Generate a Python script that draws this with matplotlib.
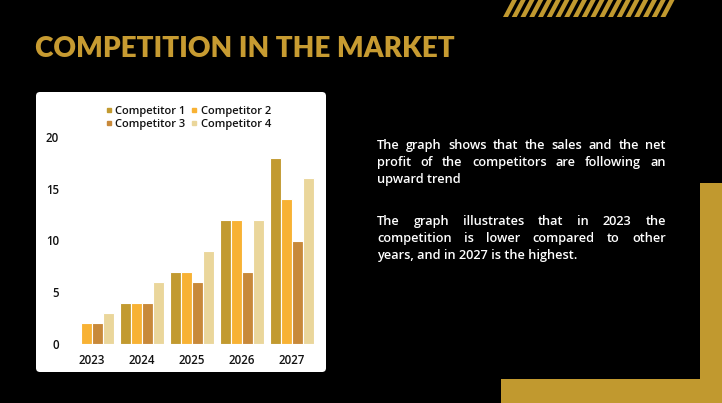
import matplotlib
matplotlib.use("Agg")
import matplotlib.pyplot as plt
import numpy as np
from matplotlib.patches import FancyBboxPatch, Rectangle, Polygon
from matplotlib.lines import Line2D

# ---------------- data ----------------
years = ["2023", "2024", "2025", "2026", "2027"]
competitor_1 = [0, 4, 7, 12, 18]
competitor_2 = [2, 4, 7, 12, 14]
competitor_3 = [2, 4, 6, 7, 10]
competitor_4 = [3, 6, 9, 12, 16]
series_names = ["Competitor 1", "Competitor 2", "Competitor 3", "Competitor 4"]
y_ticks = [0, 5, 10, 15, 20]

title_text = "COMPETITION IN THE MARKET"
para1 = ["The graph shows that the sales and the net",
         "profit of the competitors are following an",
         "upward trend"]
para2 = ["The graph illustrates that in 2023 the",
         "competition is lower compared to other",
         "years, and in 2027 is the highest."]

# ---------------- style ----------------
colors = ["#C29A30", "#F8B234", "#C8893A", "#EAD69B"]
gold = "#C1992F"
W, H = 722, 403

fig = plt.figure(figsize=(W / 100, H / 100), dpi=100, facecolor="black")
renderer = fig.canvas.get_renderer()

# background / decoration axes in pixel coordinates
bg = fig.add_axes([0, 0, 1, 1], zorder=0)
bg.set_xlim(0, W)
bg.set_ylim(H, 0)
bg.axis("off")
bg.set_facecolor("black")

# white card
card = FancyBboxPatch((36, 92), 290, 280, boxstyle="round,pad=0,rounding_size=4",
                      facecolor="white", edgecolor="none")
bg.add_patch(card)

# stripes top-right
period, sw, shift, h = 8.75, 5.0, 9.0, 17.0
x_start, x_end = 503.0, 669.0
x = x_start
while x < x_end - 1:
    x2 = min(x + sw, x_end)
    bg.add_patch(Polygon([(x, h), (x2, h), (x2 + shift, 0), (x + shift, 0)],
                         closed=True, facecolor=gold, edgecolor="none"))
    x += period

# L-shaped frame bottom-right
bg.add_patch(Rectangle((700, 183), 22, 220, facecolor=gold, edgecolor="none"))
bg.add_patch(Rectangle((501, 379), 221, 24, facecolor=gold, edgecolor="none"))

# title, sized to span the same width as the reference
title = bg.text(35, 57, title_text, fontsize=24, family=["Lato", "DejaVu Sans"],
                fontweight="heavy", color="#C79B31", va="baseline", ha="left")
tw = title.get_window_extent(renderer=renderer).width
title.set_fontsize(24 * 420.0 / tw)

# justified paragraphs
tfont = dict(family=["Open Sans", "DejaVu Sans"], fontweight="semibold", fontsize=9.2, color="white")


def word_width(w):
    t = bg.text(0, 0, w, **tfont)
    bb = t.get_window_extent(renderer=renderer)
    t.remove()
    return bb.width


def justify(lines, x0, x1, y0, dy):
    for i, line in enumerate(lines):
        y = y0 + i * dy
        if i == len(lines) - 1:
            bg.text(x0, y, line, va="baseline", ha="left", **tfont)
            continue
        words = line.split()
        widths = [word_width(w) for w in words]
        gap = (x1 - x0 - sum(widths)) / (len(words) - 1)
        xx = x0
        for w, wd in zip(words, widths):
            bg.text(xx, y, w, va="baseline", ha="left", **tfont)
            xx += wd + gap


justify(para1, 377, 666, 149, 17)
justify(para2, 377, 666, 225, 17)

# ---------------- chart ----------------
left_px, right_px, bottom_px, top_px = 66, 318, 344, 137
ax = fig.add_axes([left_px / W, 1 - bottom_px / H, (right_px - left_px) / W,
                   (bottom_px - top_px) / H], zorder=1)
ax.patch.set_alpha(0)
xs = np.arange(len(years))
bw = 0.22
all_series = [competitor_1, competitor_2, competitor_3, competitor_4]
for i, (vals, c) in enumerate(zip(all_series, colors)):
    ax.bar(xs + (i - 1.5) * bw, vals, width=bw, color=c, edgecolor="white", linewidth=0.8)

ax.set_xlim((left_px - 91.5) / 50, (right_px - 91.5) / 50)
ax.set_ylim(0, 20)
ax.set_yticks(y_ticks)
ax.set_yticklabels([str(v) for v in y_ticks])
ax.set_xticks(xs)
ax.set_xticklabels(years)
for s in ax.spines.values():
    s.set_visible(False)
ax.tick_params(length=0, labelsize=8.3, labelcolor="#111111")
ax.tick_params(axis="y", pad=5)
ax.tick_params(axis="x", pad=7)
for lab in ax.get_xticklabels() + ax.get_yticklabels():
    lab.set_family(["Open Sans", "DejaVu Sans"])
    lab.set_fontweight("semibold")

# legend (row-major order: C1 C2 / C3 C4)
handles = [Line2D([], [], marker="s", ls="", ms=2.2, color=c) for c in colors]
order = [0, 2, 1, 3]
leg = fig.legend([handles[k] for k in order], [series_names[k] for k in order],
                 ncol=2, loc="center", bbox_to_anchor=(189 / W, 1 - 118 / H),
                 frameon=False, handlelength=0.4, handletextpad=0.35,
                 columnspacing=0.6, labelspacing=0.15,
                 prop=dict(family=["Open Sans", "DejaVu Sans"], weight="semibold", size=8))
for t in leg.get_texts():
    t.set_color("#111111")
leg.set_zorder(2)

fig.savefig("out.png", dpi=100, facecolor="black")
